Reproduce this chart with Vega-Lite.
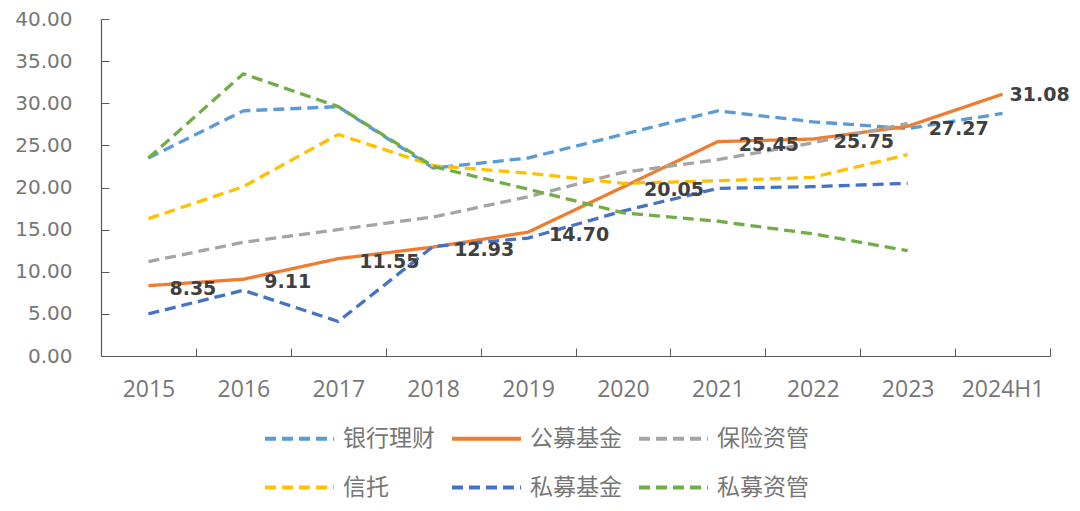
{
  "$schema": "https://vega.github.io/schema/vega-lite/v6.json",
  "width": 949,
  "height": 337,
  "autosize": "none",
  "padding": {"left": 101, "top": 19, "right": 30, "bottom": 155},
  "background": "white",
  "config": {"view": {"stroke": null}},
  "data": {
    "values": [
      {"year": "2015", "series": "银行理财", "value": 23.5},
      {"year": "2016", "series": "银行理财", "value": 29.1},
      {"year": "2017", "series": "银行理财", "value": 29.6},
      {"year": "2018", "series": "银行理财", "value": 22.3},
      {"year": "2019", "series": "银行理财", "value": 23.5},
      {"year": "2020", "series": "银行理财", "value": 26.3},
      {"year": "2021", "series": "银行理财", "value": 29.1},
      {"year": "2022", "series": "银行理财", "value": 27.8},
      {"year": "2023", "series": "银行理财", "value": 27.0},
      {"year": "2024H1", "series": "银行理财", "value": 28.8},
      {"year": "2015", "series": "公募基金", "value": 8.35},
      {"year": "2016", "series": "公募基金", "value": 9.11},
      {"year": "2017", "series": "公募基金", "value": 11.55},
      {"year": "2018", "series": "公募基金", "value": 12.93},
      {"year": "2019", "series": "公募基金", "value": 14.70},
      {"year": "2020", "series": "公募基金", "value": 20.05},
      {"year": "2021", "series": "公募基金", "value": 25.45},
      {"year": "2022", "series": "公募基金", "value": 25.75},
      {"year": "2023", "series": "公募基金", "value": 27.27},
      {"year": "2024H1", "series": "公募基金", "value": 31.08},
      {"year": "2015", "series": "保险资管", "value": 11.2},
      {"year": "2016", "series": "保险资管", "value": 13.5},
      {"year": "2017", "series": "保险资管", "value": 15.0},
      {"year": "2018", "series": "保险资管", "value": 16.5},
      {"year": "2019", "series": "保险资管", "value": 18.9},
      {"year": "2020", "series": "保险资管", "value": 21.8},
      {"year": "2021", "series": "保险资管", "value": 23.3},
      {"year": "2022", "series": "保险资管", "value": 25.3},
      {"year": "2023", "series": "保险资管", "value": 27.6},
      {"year": "2015", "series": "信托", "value": 16.3},
      {"year": "2016", "series": "信托", "value": 20.1},
      {"year": "2017", "series": "信托", "value": 26.3},
      {"year": "2018", "series": "信托", "value": 22.6},
      {"year": "2019", "series": "信托", "value": 21.7},
      {"year": "2020", "series": "信托", "value": 20.5},
      {"year": "2021", "series": "信托", "value": 20.8},
      {"year": "2022", "series": "信托", "value": 21.2},
      {"year": "2023", "series": "信托", "value": 23.9},
      {"year": "2015", "series": "私募基金", "value": 5.0},
      {"year": "2016", "series": "私募基金", "value": 7.8},
      {"year": "2017", "series": "私募基金", "value": 4.1},
      {"year": "2018", "series": "私募基金", "value": 13.0},
      {"year": "2019", "series": "私募基金", "value": 14.0},
      {"year": "2020", "series": "私募基金", "value": 17.2},
      {"year": "2021", "series": "私募基金", "value": 19.9},
      {"year": "2022", "series": "私募基金", "value": 20.1},
      {"year": "2023", "series": "私募基金", "value": 20.5},
      {"year": "2015", "series": "私募资管", "value": 23.5},
      {"year": "2016", "series": "私募资管", "value": 33.5},
      {"year": "2017", "series": "私募资管", "value": 29.6},
      {"year": "2018", "series": "私募资管", "value": 22.5},
      {"year": "2019", "series": "私募资管", "value": 19.8},
      {"year": "2020", "series": "私募资管", "value": 17.0},
      {"year": "2021", "series": "私募资管", "value": 16.0},
      {"year": "2022", "series": "私募资管", "value": 14.5},
      {"year": "2023", "series": "私募资管", "value": 12.5}
    ]
  },
  "encoding": {
    "x": {
      "field": "year",
      "type": "ordinal",
      "sort": null,
      "scale": {"type": "band", "paddingInner": 0, "paddingOuter": 0},
      "axis": {
        "title": null,
        "labelAngle": 0,
        "tickBand": "extent",
        "tickSize": -8,
        "tickColor": "#595959",
        "domainColor": "#595959",
        "domainWidth": 1.2,
        "labelFont": "Open Sans",
        "labelFontSize": 23,
        "labelColor": "#767676",
        "labelPadding": 30,
        "grid": false
      }
    },
    "y": {
      "field": "value",
      "type": "quantitative",
      "scale": {"domain": [0, 40], "nice": false},
      "axis": {
        "title": null,
        "values": [0, 5, 10, 15, 20, 25, 30, 35, 40],
        "format": ".2f",
        "tickSize": -8,
        "tickColor": "#595959",
        "domainColor": "#595959",
        "domainWidth": 1.2,
        "labelFont": "DejaVu Sans",
        "labelFontSize": 20,
        "labelColor": "#767676",
        "labelPadding": 37,
        "grid": false
      }
    }
  },
  "layer": [
    {
      "mark": {"type": "line", "strokeWidth": 3.3},
      "encoding": {
        "color": {
          "field": "series",
          "type": "nominal",
          "scale": {
            "domain": ["银行理财", "公募基金", "保险资管", "信托", "私募基金", "私募资管"],
            "range": ["#5B9BD5", "#ED7D31", "#A5A5A5", "#FFC000", "#4472C4", "#70AD47"]
          },
          "legend": {
            "title": null,
            "orient": "none",
            "legendX": 162,
            "legendY": 383,
            "direction": "horizontal",
            "columns": 3,
            "symbolType": "stroke",
            "symbolSize": 4761,
            "symbolStrokeWidth": 4,
            "labelFont": "Noto Sans CJK SC",
            "labelFontSize": 23,
            "labelColor": "#767676",
            "labelOffset": 7,
            "columnPadding": 9,
            "rowPadding": -32
          }
        },
        "strokeDash": {
          "field": "series",
          "type": "nominal",
          "scale": {
            "domain": ["银行理财", "公募基金", "保险资管", "信托", "私募基金", "私募资管"],
            "range": [[11, 6], [1, 0], [11, 6], [11, 6], [11, 6], [11, 6]]
          },
          "legend": {
            "title": null,
            "orient": "none",
            "legendX": 162,
            "legendY": 383,
            "direction": "horizontal",
            "columns": 3,
            "symbolType": "stroke",
            "symbolSize": 4761,
            "symbolStrokeWidth": 4,
            "labelFont": "Noto Sans CJK SC",
            "labelFontSize": 23,
            "labelColor": "#767676",
            "labelOffset": 7,
            "columnPadding": 9,
            "rowPadding": -32
          }
        }
      }
    },
    {
      "transform": [{"filter": "datum.series === '公募基金' && datum.year !== '2024H1'"}],
      "mark": {"type": "text", "align": "left", "baseline": "middle", "dx": 21, "dy": 3, "fontSize": 19, "fontWeight": "bold", "font": "DejaVu Sans", "color": "#404040"},
      "encoding": {"text": {"field": "value", "type": "quantitative", "format": ".2f"}}
    },
    {
      "transform": [{"filter": "datum.series === '公募基金' && datum.year === '2024H1'"}],
      "mark": {"type": "text", "align": "left", "baseline": "middle", "dx": 7, "dy": 1, "fontSize": 19, "fontWeight": "bold", "font": "DejaVu Sans", "color": "#404040"},
      "encoding": {"text": {"field": "value", "type": "quantitative", "format": ".2f"}}
    }
  ]
}
